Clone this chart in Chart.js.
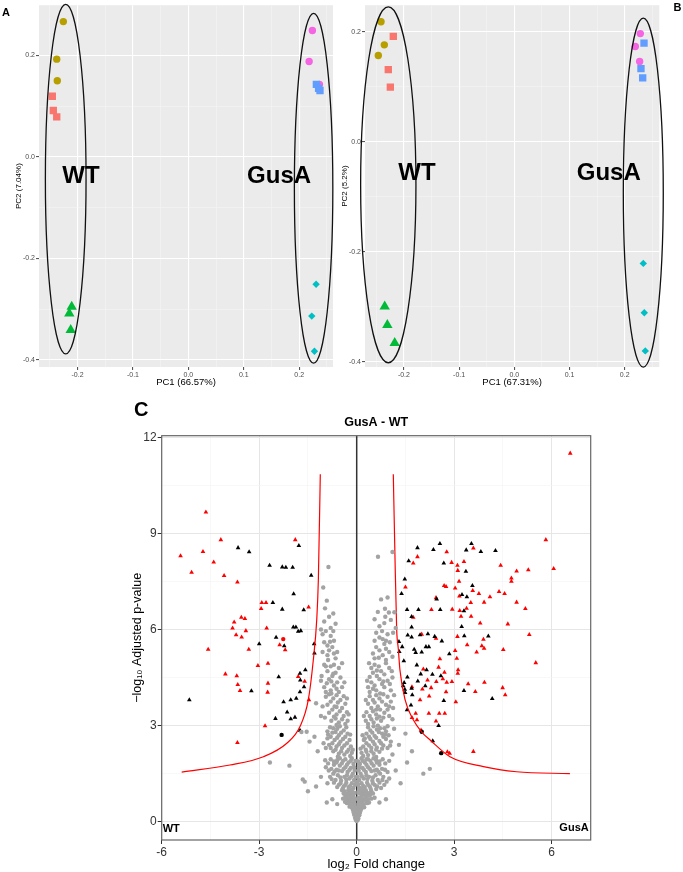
<!DOCTYPE html>
<html><head><meta charset="utf-8">
<script src="https://cdn.jsdelivr.net/npm/chart.js@4.4.0/dist/chart.umd.min.js"></script>
<style>
html,body{margin:0;padding:0;background:#fff;width:683px;height:872px;overflow:hidden;font-family:"Liberation Sans",Arial,sans-serif}
.p{position:absolute}
canvas{display:block}
</style></head><body>
<div class="p" style="left:0;top:0;width:340px;height:392px"><canvas id="cA" width="340" height="392" style="width:340px;height:392px"></canvas></div>
<div class="p" style="left:340px;top:0;width:343px;height:392px"><canvas id="cB" width="343" height="392" style="width:343px;height:392px"></canvas></div>
<div class="p" style="left:130px;top:400px;width:470px;height:472px"><canvas id="cC" width="470" height="472" style="width:470px;height:472px"></canvas></div>
<script>
// ---------------- DATA: PCA panel A ----------------
const pcaA_red     = [[-0.2455,0.1196],[-0.2437,0.0915],[-0.2375,0.079]];
const pcaA_olive   = [[-0.2256,0.2667],[-0.2375,0.1927],[-0.2365,0.150]];
const pcaA_green   = [[-0.2105,-0.2955],[-0.2148,-0.3085],[-0.2123,-0.341]];
const pcaA_cyan    = [[0.2305,-0.251],[0.2227,-0.3137],[0.2275,-0.383]];
const pcaA_blue    = [[0.2310,0.143],[0.2350,0.135],[0.2375,0.131]];
const pcaA_magenta = [[0.2238,0.249],[0.2179,0.188],[0.2365,0.143]];
const ellipsesA    = [[-0.2213,-0.0437,0.0367,0.3445],[0.2260,-0.0618,0.0347,0.3447]]; // cx, cy, rx, ry
const groupLabelsA = [['WT',-0.1937,-0.039],['GusA',0.1637,-0.039]];
const rangeA = {xmin:-0.2695,xmax:0.261,ymin:-0.414,ymax:0.299};

// ---------------- DATA: PCA panel B ----------------
const pcaB_red     = [[-0.2192,0.1915],[-0.2283,0.1309],[-0.2246,0.0993]];
const pcaB_olive   = [[-0.2415,0.218],[-0.2355,0.176],[-0.2464,0.1567]];
const pcaB_green   = [[-0.2348,-0.2993],[-0.2300,-0.3329],[-0.2167,-0.3653]];
const pcaB_cyan    = [[0.2337,-0.2209],[0.2355,-0.3106],[0.2373,-0.3798]];
const pcaB_blue    = [[0.2350,0.179],[0.2295,0.1327],[0.2326,0.1159]];
const pcaB_magenta = [[0.2283,0.1964],[0.2192,0.1729],[0.2271,0.1458]];
const ellipsesB    = [[-0.2283,-0.0782,0.0501,0.3231],[0.2337,-0.0924,0.0362,0.3168]];
const groupLabelsB = [['WT',-0.1763,-0.0578],['GusA',0.1712,-0.0578]];
const rangeB = {xmin:-0.2705,xmax:0.2627,ymin:-0.409,ymax:0.248};

const pcaXMajor = [-0.2,-0.1,0,0.1,0.2];
const pcaXMinor = [-0.25,-0.15,-0.05,0.05,0.15,0.25];
const pcaYMajor = [-0.4,-0.2,0,0.2];
const pcaYMinor = [-0.3,-0.1,0.1];

// ---------------- DATA: volcano panel C ----------------
const volcXMajor = [-6,-3,0,3,6];
const volcXMinor = [-4.5,-1.5,1.5,4.5];
const volcYMajor = [0,3,6,9,12];
const volcYMinor = [1.5,4.5,7.5,10.5];

const curveLeft  = [[-5.385,1.55],[-3.9,1.77],[-2.87,2.03],[-2.15,2.45],[-1.745,2.97],[-1.49,3.80],[-1.335,5.05],[-1.23,6.3],[-1.18,7.55],[-1.12,10.85]];
const curveRight = [[1.126,10.85],[1.175,8.4],[1.23,6.0],[1.28,5.4],[1.33,4.74],[1.49,3.80],[1.74,3.18],[2.0,2.8],[2.26,2.55],[2.87,2.03],[3.9,1.72],[4.92,1.56],[6.56,1.50]];

const greyPts = [
[0,0.02],[0.03,0.05],[-0.03,0.06],[0.05,0.1],[-0.05,0.12],[0.02,0.15],[-0.02,0.18],[0.08,0.2],[-0.08,0.22],[0.1,0.28],[-0.1,0.3],[0.04,0.25],[-0.04,0.27],[0.12,0.35],[-0.12,0.38],[0.15,0.42],[-0.15,0.45],[0.07,0.4],[-0.07,0.42],[0.18,0.5],[-0.17,0.52],[0.1,0.48],[-0.1,0.5],[0.01,0.08],[-0.01,0.1],
[-0.02,0.35],[0.02,0.32],[-0.06,0.55],[0.06,0.55],[-0.16,0.62],[0.16,0.62],[-0.24,0.7],[0.24,0.7],[-0.32,0.82],[0.32,0.82],[-0.12,0.92],[0.12,0.92],[-0.26,0.98],[0.28,0.98],[-0.4,0.88],[0.42,0.88],[-0.18,0.82],[0.18,0.85],[-0.09,0.75],[0.09,0.75],[-0.3,0.58],[0.32,0.58],[-0.42,0.72],[0.45,0.72],[0.38,0.6],[-0.36,0.62],
[-0.2,0.55],[-0.25,0.6],[-0.12,0.6],[-0.3,0.7],[-0.18,0.68],[-0.08,0.65],[-0.22,0.75],[-0.35,0.8],[-0.14,0.78],[-0.28,0.88],[-0.1,0.85],[-0.2,0.92],[-0.38,0.95],[-0.05,0.7],[-0.06,0.9],[-0.45,0.98],
[0.22,0.55],[0.3,0.62],[0.12,0.6],[0.35,0.7],[0.2,0.68],[0.08,0.65],[0.27,0.78],[0.4,0.82],[0.15,0.78],[0.33,0.9],[0.1,0.88],[0.22,0.95],[0.45,0.95],[0.05,0.75],[0.06,0.95],[0.5,0.88],[0.55,0.75],
[-0.92,0.6],[-0.75,0.7],[-0.6,0.55],[0.7,0.6],[0.9,0.7],[-1.5,0.95],
[-0.1,1.05],[-0.25,1.08],[-0.4,1.1],[-0.55,1.15],[-0.15,1.2],[-0.32,1.22],[-0.48,1.28],[-0.65,1.3],[-0.08,1.3],[-0.22,1.35],[-0.38,1.4],[-0.58,1.45],[-0.72,1.5],[-0.12,1.5],[-0.28,1.55],[-0.45,1.58],[-0.62,1.62],[-0.18,1.68],[-0.35,1.7],[-0.52,1.75],[-0.7,1.78],[-0.1,1.8],[-0.25,1.85],[-0.42,1.9],[-0.6,1.92],[-0.8,1.95],[-0.15,1.98],
[-0.05,1.15],[-0.2,1.12],[-0.35,1.15],[-0.5,1.2],[-0.7,1.22],[-0.03,1.4],[-0.16,1.42],[-0.3,1.45],[-0.5,1.38],[-0.82,1.4],[-0.06,1.6],[-0.22,1.62],[-0.4,1.65],[-0.55,1.6],[-0.78,1.65],[-0.08,1.7],[-0.3,1.78],[-0.46,1.82],[-0.62,1.85],[-0.18,1.9],[-0.35,1.95],[-0.52,1.98],[-0.7,1.88],[-0.88,1.82],
[0.1,1.05],[0.25,1.08],[0.4,1.1],[0.55,1.15],[0.15,1.2],[0.32,1.22],[0.48,1.28],[0.65,1.3],[0.08,1.3],[0.22,1.35],[0.38,1.4],[0.58,1.45],[0.72,1.5],[0.12,1.5],[0.28,1.55],[0.45,1.58],[0.62,1.62],[0.18,1.68],[0.35,1.7],[0.52,1.75],[0.7,1.78],[0.1,1.8],[0.25,1.85],[0.42,1.9],[0.6,1.92],[0.8,1.95],[0.15,1.98],[0.3,1.95],
[0.05,1.15],[0.2,1.12],[0.35,1.15],[0.5,1.2],[0.7,1.22],[0.03,1.4],[0.16,1.42],[0.3,1.45],[0.5,1.38],[0.82,1.4],[0.06,1.6],[0.22,1.62],[0.4,1.65],[0.55,1.6],[0.78,1.65],[0.08,1.7],[0.3,1.78],[0.46,1.82],[0.62,1.85],[0.18,1.9],[0.35,1.95],[0.52,1.98],[0.7,1.88],[0.88,1.82],[0.92,1.25],[0.75,1.05],[0.6,1.02],
[-0.9,1.2],[-1.1,1.4],[-1.25,1.1],[-1.6,1.25],[-1.66,1.32],[-0.95,1.7],[0.85,1.15],[1.0,1.35],[1.2,1.6],[1.35,1.2],[2.05,1.5],[2.25,1.65],[1.55,1.85],[0.95,1.55],
[-0.2,2.05],[-0.38,2.1],[-0.55,2.12],[-0.72,2.2],[-0.25,2.25],[-0.45,2.3],[-0.62,2.35],[-0.85,2.4],[-0.3,2.45],[-0.5,2.5],[-0.68,2.55],[-0.9,2.6],[-0.35,2.65],[-0.55,2.7],[-0.75,2.78],[-0.4,2.85],[-0.6,2.9],[-0.82,2.95],
[-0.15,2.15],[-0.3,2.18],[-0.48,2.2],[-0.65,2.25],[-0.8,2.3],[-0.18,2.35],[-0.38,2.38],[-0.55,2.42],[-0.75,2.45],[-0.22,2.55],[-0.42,2.58],[-0.6,2.62],[-0.8,2.65],[-0.28,2.75],[-0.48,2.78],[-0.65,2.8],[-0.9,2.82],[-0.32,2.95],[-0.52,2.98],[-0.72,2.92],[-0.95,2.3],
[0.2,2.05],[0.35,2.08],[0.52,2.12],[0.7,2.18],[0.28,2.25],[0.45,2.3],[0.62,2.32],[0.82,2.38],[0.3,2.45],[0.5,2.5],[0.7,2.52],[0.9,2.58],[0.38,2.65],[0.55,2.68],[0.78,2.75],[0.42,2.85],[0.62,2.88],[0.85,2.92],[0.25,2.6],
[0.15,2.15],[0.3,2.18],[0.45,2.2],[0.6,2.25],[0.78,2.28],[0.95,2.3],[0.2,2.35],[0.38,2.38],[0.55,2.42],[0.75,2.45],[0.22,2.55],[0.42,2.58],[0.6,2.62],[0.82,2.65],[0.98,2.7],[0.3,2.75],[0.48,2.78],[0.68,2.8],[0.9,2.82],[0.35,2.95],[0.52,2.98],[0.72,2.92],[0.95,2.98],[1.05,2.5],
[-2.67,1.85],[-2.07,1.75],[-1.2,2.2],[-1.45,2.5],[-1.7,2.8],[-1.54,2.81],[-1.3,2.65],[1.1,2.1],[1.3,2.4],[1.7,2.2],[1.5,2.75],[1.15,2.9],
[-0.35,3.05],[-0.55,3.1],[-0.78,3.15],[-0.4,3.3],[-0.62,3.35],[-0.85,3.4],[-0.45,3.55],[-0.68,3.6],[-0.9,3.65],[-0.5,3.8],[-0.72,3.85],[-0.95,3.9],
[-0.28,3.15],[-0.45,3.2],[-0.65,3.22],[-0.3,3.42],[-0.52,3.45],[-0.75,3.5],[-0.35,3.68],[-0.58,3.72],[-0.8,3.75],[-0.4,3.92],[-0.62,3.95],[-0.85,3.98],
[0.35,3.05],[0.52,3.1],[0.75,3.15],[0.4,3.3],[0.6,3.35],[0.85,3.4],[0.45,3.55],[0.65,3.6],[0.9,3.65],[0.5,3.8],[0.7,3.85],[1.05,3.75],[1.15,3.95],
[0.28,3.15],[0.45,3.2],[0.62,3.22],[0.82,3.25],[0.3,3.42],[0.5,3.45],[0.72,3.5],[0.95,3.5],[0.35,3.68],[0.55,3.72],[0.78,3.75],[1.0,3.6],[0.4,3.92],[0.6,3.95],[0.82,3.98],[0.95,3.9],
[-1.1,3.3],[-1.25,3.7],[1.1,3.2],
[-0.55,4.05],[-0.8,4.1],[-1.0,4.2],[-0.6,4.35],[-0.85,4.45],[-0.65,4.65],[-0.9,4.7],[-1.08,4.55],[-0.7,4.9],
[-0.45,4.2],[-0.7,4.25],[-0.92,4.32],[-0.5,4.5],[-0.75,4.55],[-0.55,4.8],[-0.8,4.85],[-1.0,4.9],
[0.4,4.05],[0.6,4.1],[0.85,4.2],[0.45,4.35],[0.7,4.45],[0.95,4.4],[0.5,4.65],[0.75,4.7],[1.0,4.8],[0.55,4.9],
[0.35,4.2],[0.55,4.25],[0.78,4.3],[1.02,4.3],[0.4,4.52],[0.62,4.55],[0.85,4.6],[0.45,4.8],[0.68,4.85],[0.9,4.95],
[-0.65,5.1],[-0.9,5.2],[-0.75,5.45],[-1.0,5.6],[-0.8,5.8],[-0.95,5.95],[-0.6,5.3],[-0.85,5.35],[-0.7,5.65],[-0.9,5.5],
[0.55,5.1],[0.8,5.2],[1.0,5.3],[0.6,5.45],[0.85,5.55],[0.7,5.75],[0.95,5.85],[0.6,5.9],[0.5,5.25],[0.7,5.35],[0.9,5.4],[0.55,5.65],[0.8,5.7],[1.02,5.6],
[-0.65,6.18],[-0.975,6.66],[-0.85,6.4],[-1.03,7.31],[-0.87,7.95],
[0.55,6.32],[0.88,6.4],[0.99,6.53],[1.16,6.54],[0.87,6.65],[0.75,6.94],[0.655,8.27],[1.1,8.42],[0.7,6.1],
[-0.13,0.66],[0.14,0.7],[-0.27,0.83],[0.26,0.86],[-0.43,1.03],[0.43,1.02],[-0.6,1.08],[0.63,1.1],[-0.77,1.33],[0.79,1.3],[-0.68,1.57],[0.67,1.56],[-0.86,1.6],[0.87,1.62],[-0.97,1.92],[1.0,1.9],[-0.58,2.03],[0.6,2.02],[-1.02,2.45],[1.03,2.38],[-0.88,2.72],[0.88,2.72],[-0.62,3.02],[0.65,3.0],[-0.98,3.25],[1.0,3.3],[-0.7,3.28],[0.7,3.28],[-1.05,3.6],[1.12,3.55],[-0.62,3.58],[0.6,3.5],[-0.78,4.0],[0.72,4.0],[-0.95,4.05],[1.05,4.1],[-0.62,4.15],[0.5,4.15],[-1.1,4.4],[1.1,4.5],[-0.78,4.38],[0.82,4.38],[-0.95,4.85],[1.08,4.7],[-0.72,4.62],[0.62,4.72],[-0.88,5.05],[0.9,5.05],[-1.05,5.3],[1.1,5.15],[-0.7,5.25],[0.68,5.12],[-0.82,5.62],[0.9,5.65],[-1.05,5.85],[1.12,5.9],[-0.72,5.95],[0.78,5.95],[-0.8,6.05],[0.85,6.2],[-1.0,6.25],[1.05,6.3],[-0.72,6.5],[0.65,6.55],[-0.92,6.9],[0.95,7.0],[-1.1,6.0],[1.2,6.05],
[-0.03,0.45],[0.04,0.45],[-0.22,0.47],[0.23,0.45],[-0.15,1.0],[0.16,1.02],[-0.02,1.25],[0.02,1.22],[-0.32,1.32],[0.33,1.33],[-0.04,1.9],[0.05,1.88],[-0.12,2.25],[0.12,2.28],[-0.2,2.72],[0.18,2.7],[-0.25,3.35],[0.22,3.3],[-0.3,3.85],[0.28,3.8],[-0.38,4.35],[0.32,4.4],[-0.45,4.95],[0.38,4.95]
];

const redTri = [
[-5.42,8.30],[-5.08,7.78],[-4.64,9.66],[-4.73,8.43],[-4.40,8.10],[-4.18,8.80],[-4.08,7.68],[-3.67,7.48],[-1.89,8.80],[-2.92,6.84],[-2.79,6.84],[-2.94,6.65],[-1.48,6.70],[-3.55,6.38],[-3.44,6.34],[-3.77,6.23],[-3.82,6.04],[-2.77,6.04],[-4.57,5.38],[-3.71,5.83],[-3.54,5.76],[-3.41,5.96],[-3.32,5.38],[-2.37,5.52],[-2.20,5.36],[-2.73,4.94],[-3.04,4.87],[-4.04,4.61],[-3.69,4.55],[-3.66,4.28],[-3.59,4.09],[-2.73,4.32],[-2.74,4.04],[-2.82,2.99],[-3.67,2.47],[-1.47,3.80],[-1.60,4.38],[-1.80,4.53],
[6.57,11.50],[5.82,8.80],[6.06,7.90],[2.77,8.42],[3.59,8.54],[1.87,8.27],[1.74,8.07],[3.10,8.00],[3.30,8.12],[4.43,8.00],[3.11,7.84],[2.92,8.09],[4.92,7.82],[5.28,7.86],[4.76,7.60],[4.76,7.50],[1.50,7.32],[3.15,7.50],[2.69,7.37],[2.75,7.34],[3.03,7.29],[3.57,7.21],[3.76,7.12],[4.38,7.18],[4.55,7.12],[4.10,7.02],[2.44,6.99],[3.16,7.04],[3.51,6.84],[3.92,6.85],[4.92,6.85],[5.19,6.65],[2.30,6.62],[2.94,6.63],[3.17,6.59],[3.38,6.66],[3.21,6.41],[3.52,6.41],[3.80,6.20],[4.65,6.17],[1.74,6.38],
[2.0,5.85],[2.44,5.72],[3.10,5.78],[3.40,5.52],[3.90,5.69],[3.85,5.49],[3.92,5.41],[3.69,5.29],[4.51,5.37],[5.31,5.84],[5.51,4.96],[3.03,5.34],[3.08,5.10],[3.12,4.74],[3.11,4.63],[2.56,5.08],[2.52,4.82],[2.70,4.66],[2.05,4.76],[2.18,4.42],[2.45,4.37],[2.77,4.35],[2.93,4.37],[2.65,4.46],[3.43,4.30],[3.93,4.35],[1.70,4.21],[2.02,4.14],[2.29,4.18],[2.75,4.05],[3.65,4.06],[4.49,4.18],[4.57,3.96],[2.23,3.92],[1.95,3.80],[3.05,3.74],[1.815,3.38],[2.22,3.38],[2.54,3.38],[2.71,3.38],[1.855,3.18],[2.44,3.14],[1.70,3.25],[1.98,2.86],[2.79,2.18],[2.86,2.13],[3.59,2.19]
];
const redCirc = [[-2.26,5.70]];
const blackTri = [
[-3.65,8.55],[-3.31,8.42],[-2.68,8.00],[-2.29,7.95],[-2.18,7.94],[-1.97,7.94],[-1.78,8.62],[-1.40,7.69],[-1.94,7.11],[-2.58,6.84],[-2.29,6.63],[-1.63,6.61],[-1.95,6.07],[-1.87,6.07],[-1.80,5.94],[-1.72,5.96],[-5.15,3.80],[-3.00,5.55],[-2.48,5.75],[-2.23,5.49],[-1.31,5.55],[-1.30,5.26],[-2.40,4.52],[-3.24,4.08],[-1.745,4.63],[-1.735,4.42],[-1.58,4.74],[-1.62,4.21],[-1.86,3.85],[-1.745,4.05],[-2.03,3.80],[-2.25,3.74],[-2.14,3.42],[-1.90,3.26],[-2.03,3.21],[-2.50,3.22],[-1.745,2.85],
[1.87,8.55],[2.36,8.49],[2.56,8.68],[3.53,8.68],[3.37,8.48],[3.82,8.43],[4.27,8.46],[1.60,8.14],[2.68,8.07],[3.36,7.81],[1.48,7.57],[1.38,7.12],[3.56,7.37],[3.24,7.09],[3.39,7.02],[2.46,6.95],[1.55,6.62],[1.90,6.62],[2.57,6.62],[3.30,6.58],[1.69,6.40],[3.23,6.09],[1.69,6.07],
[1.57,5.82],[1.69,5.76],[1.95,5.83],[2.19,5.86],[2.40,5.78],[2.62,5.64],[3.31,5.80],[4.05,5.79],[1.30,5.62],[1.40,5.46],[1.31,5.31],[1.77,5.38],[1.815,5.28],[2.0,5.29],[2.13,5.46],[2.22,5.46],[2.85,5.24],[1.45,5.02],[1.85,4.89],[2.15,4.74],[2.33,4.60],[1.97,4.61],[2.59,4.55],[1.56,4.51],[1.88,4.39],[1.46,4.34],[2.11,4.24],[1.43,4.24],[1.48,4.13],[1.69,4.16],[1.49,4.03],[1.71,3.96],[2.68,3.78],[3.30,4.09],[4.17,3.84],[1.67,3.64],[1.55,3.49],[2.52,3.00],[2.34,2.52]
];
const blackCirc = [[-2.31,2.71],[2.0,2.81],[2.60,2.14]];

// ---------------- helpers ----------------
const FONT = '"Liberation Sans", Arial, sans-serif';
Chart.defaults.font.family = FONT;
Chart.defaults.animation = false;
const toXY = arr => arr.map(p => ({x:p[0], y:p[1]}));
const isIn = (arr, v) => arr.some(a => Math.abs(a - v) < 1e-9);

const groupStyle = [
  {c:'#F8766D', s:'rect', r:5.2},
  {c:'#B79F00', s:'circle', r:3.7},
  {c:'#00BA38', s:'triangle', r:6},
  {c:'#00BFC4', s:'rectRot', r:3.7},
  {c:'#619CFF', s:'rect', r:5.2},
  {c:'#F564E3', s:'circle', r:3.7}
];

function pcaChart(id, groups, range, ells, labels, xTitle, yTitle, letter, letterX, letterY, pad, yW, yTitlePad) {
  const ds = groups.map((g, i) => ({
    data: toXY(g), pointStyle: groupStyle[i].s, pointRadius: groupStyle[i].r,
    pointBackgroundColor: groupStyle[i].c, pointBorderWidth: 0, showLine: false
  }));
  const plug = {
    id: 'pcaDeco',
    beforeDraw(chart) {
      const {ctx, chartArea: a} = chart;
      ctx.save(); ctx.fillStyle = '#EBEBEB';
      ctx.fillRect(a.left, a.top, a.right - a.left, a.bottom - a.top); ctx.restore();
    },
    afterDatasetsDraw(chart) {
      const {ctx, scales: {x, y}} = chart;
      ctx.save();
      ctx.strokeStyle = '#111'; ctx.lineWidth = 1.3;
      ells.forEach(e => {
        const cx = x.getPixelForValue(e[0]), cy = y.getPixelForValue(e[1]);
        const rx = Math.abs(x.getPixelForValue(e[0] + e[2]) - cx);
        const ry = Math.abs(y.getPixelForValue(e[1] + e[3]) - cy);
        ctx.beginPath(); ctx.ellipse(cx, cy, rx, ry, 0, 0, Math.PI * 2); ctx.stroke();
      });
      ctx.fillStyle = '#000'; ctx.font = 'bold 24px ' + FONT;
      ctx.textAlign = 'center'; ctx.textBaseline = 'middle';
      labels.forEach(l => ctx.fillText(l[0], x.getPixelForValue(l[1]), y.getPixelForValue(l[2])));
      ctx.restore();
    },
    afterDraw(chart) {
      const ctx = chart.ctx; ctx.save();
      ctx.fillStyle = '#000'; ctx.font = 'bold 11px ' + FONT;
      ctx.textAlign = 'center'; ctx.textBaseline = 'middle';
      ctx.fillText(letter, letterX, letterY); ctx.restore();
    }
  };
  const gridOpts = (maj) => ({
    color: c => isIn(maj, c.tick.value) ? '#FFFFFF' : '#F7F7F7',
    lineWidth: c => isIn(maj, c.tick.value) ? 1.1 : 0.5,
    tickColor: c => isIn(maj, c.tick.value) ? '#555' : 'rgba(0,0,0,0)',
    tickLength: 3, drawOnChartArea: true, drawTicks: true
  });
  return new Chart(document.getElementById(id), {
    type: 'scatter',
    data: {datasets: ds},
    options: {
      responsive: false, animation: false,
      layout: {padding: pad, autoPadding: false},
      plugins: {legend: {display: false}, tooltip: {enabled: false}},
      scales: {
        x: {
          type: 'linear', min: range.xmin, max: range.xmax,
          afterBuildTicks: s => { s.ticks = pcaXMajor.concat(pcaXMinor).sort((a,b)=>a-b).map(v => ({value: v})); },
          afterFit: s => { s.height = 25; },
          ticks: {autoSkip: false, maxRotation: 0, padding: 1, color: '#4D4D4D', font: {size: 7},
            callback: v => isIn(pcaXMajor, v) ? v.toFixed(1) : ''},
          grid: gridOpts(pcaXMajor), border: {display: false},
          title: {display: true, text: xTitle, color: '#000', font: {size: 9.5}, padding: {top: 0, bottom: 4}}
        },
        y: {
          type: 'linear', min: range.ymin, max: range.ymax,
          afterBuildTicks: s => { s.ticks = pcaYMajor.concat(pcaYMinor).sort((a,b)=>a-b).map(v => ({value: v})); },
          afterFit: s => { s.width = yW; },
          ticks: {autoSkip: false, padding: 1, color: '#4D4D4D', font: {size: 7},
            callback: v => isIn(pcaYMajor, v) ? v.toFixed(1) : ''},
          grid: gridOpts(pcaYMajor), border: {display: false},
          title: {display: true, text: yTitle, color: '#000', font: {size: 8}, padding: {top: yTitlePad, bottom: 0}}
        }
      }
    },
    plugins: [plug]
  });
}

pcaChart('cA', [pcaA_red, pcaA_olive, pcaA_green, pcaA_cyan, pcaA_blue, pcaA_magenta], rangeA, ellipsesA, groupLabelsA,
  'PC1 (66.57%)', 'PC2 (7.04%)', 'A', 6, 12.5, {left: 0, top: 3.5, right: 7, bottom: 0}, 39, 14);
pcaChart('cB', [pcaB_red, pcaB_olive, pcaB_green, pcaB_cyan, pcaB_blue, pcaB_magenta], rangeB, ellipsesB, groupLabelsB,
  'PC1 (67.31%)', 'PC2 (5.2%)', 'B', 337.5, 7.5, {left: 0, top: 3.3, right: 23.7, bottom: 0}, 25, 0);

// ---------------- volcano ----------------
const volcPlug = {
  id: 'volcDeco',
  beforeDatasetsDraw(chart) {
    const {ctx, chartArea: a, scales: {x}} = chart;
    const x0 = x.getPixelForValue(0);
    ctx.save(); ctx.strokeStyle = '#333'; ctx.lineWidth = 1.5;
    ctx.beginPath(); ctx.moveTo(x0, a.top); ctx.lineTo(x0, a.bottom); ctx.stroke(); ctx.restore();
  },
  afterDraw(chart) {
    const {ctx, chartArea: a} = chart;
    ctx.save();
    ctx.strokeStyle = '#666'; ctx.lineWidth = 1.2;
    ctx.strokeRect(a.left, a.top, a.right - a.left, a.bottom - a.top);
    ctx.fillStyle = '#000'; ctx.textBaseline = 'middle';
    ctx.font = 'bold 12.5px ' + FONT; ctx.textAlign = 'center';
    ctx.fillText('GusA - WT', (a.left + a.right) / 2, 23);
    ctx.font = 'bold 20px ' + FONT; ctx.textAlign = 'left';
    ctx.fillText('C', 4, 10);
    ctx.font = 'bold 11px ' + FONT;
    ctx.fillText('WT', a.left + 1, 429);
    ctx.textAlign = 'right';
    ctx.fillText('GusA', a.right - 2, 428);
    ctx.restore();
  }
};
const vGrid = (maj) => ({
  color: c => isIn(maj, c.tick.value) ? '#E6E6E6' : '#F3F3F3',
  lineWidth: c => isIn(maj, c.tick.value) ? 1 : 0.6,
  tickColor: c => isIn(maj, c.tick.value) ? '#333' : 'rgba(0,0,0,0)',
  tickLength: 4, drawOnChartArea: true
});
const triStyle = (data, color) => ({data: toXY(data), pointStyle: 'triangle', pointRadius: 2.7, pointBackgroundColor: color, pointBorderWidth: 0, showLine: false});
new Chart(document.getElementById('cC'), {
  type: 'scatter',
  data: {datasets: [
    {data: toXY(greyPts), pointStyle: 'circle', pointRadius: 2.2, pointBackgroundColor: '#A3A3A3', pointBorderWidth: 0, showLine: false},
    {type: 'line', data: toXY(curveLeft), borderColor: '#FF0000', borderWidth: 1.2, pointRadius: 0, cubicInterpolationMode: 'monotone', fill: false},
    {type: 'line', data: toXY(curveRight), borderColor: '#FF0000', borderWidth: 1.2, pointRadius: 0, cubicInterpolationMode: 'monotone', fill: false},
    {data: toXY(blackCirc), pointStyle: 'circle', pointRadius: 2.2, pointBackgroundColor: '#000', pointBorderWidth: 0, showLine: false},
    {data: toXY(redCirc), pointStyle: 'circle', pointRadius: 2.2, pointBackgroundColor: '#FF0000', pointBorderWidth: 0, showLine: false},
    triStyle(blackTri, '#000000'),
    triStyle(redTri, '#FF0000')
  ]},
  options: {
    responsive: false, animation: false,
    layout: {padding: {left: 0, top: 35.7, right: 9.3, bottom: 0}, autoPadding: false},
    plugins: {legend: {display: false}, tooltip: {enabled: false}},
    scales: {
      x: {
        type: 'linear', min: -6, max: 7.2,
        afterBuildTicks: s => { s.ticks = volcXMajor.concat(volcXMinor).sort((a,b)=>a-b).map(v => ({value: v})); },
        afterFit: s => { s.height = 32; },
        ticks: {autoSkip: false, maxRotation: 0, padding: 1, color: '#333', font: {size: 12},
          callback: v => isIn(volcXMajor, v) ? String(v) : ''},
        grid: vGrid(volcXMajor), border: {display: false},
        title: {display: true, text: 'log\u2082 Fold change', color: '#000', font: {size: 13}, padding: {top: 0, bottom: 0}}
      },
      y: {
        type: 'linear', min: -0.571, max: 12.05,
        afterBuildTicks: s => { s.ticks = volcYMajor.concat(volcYMinor).sort((a,b)=>a-b).map(v => ({value: v})); },
        afterFit: s => { s.width = 31.7; },
        ticks: {autoSkip: false, padding: 1, color: '#333', font: {size: 12},
          callback: v => isIn(volcYMajor, v) ? String(v) : ''},
        grid: vGrid(volcYMajor), border: {display: false},
        title: {display: true, text: '\u2212log\u2081\u2080 Adjusted p-value', color: '#000', font: {size: 12.5}, padding: {top: 0, bottom: 0}}
      }
    }
  },
  plugins: [volcPlug]
});
</script>
</body></html>
